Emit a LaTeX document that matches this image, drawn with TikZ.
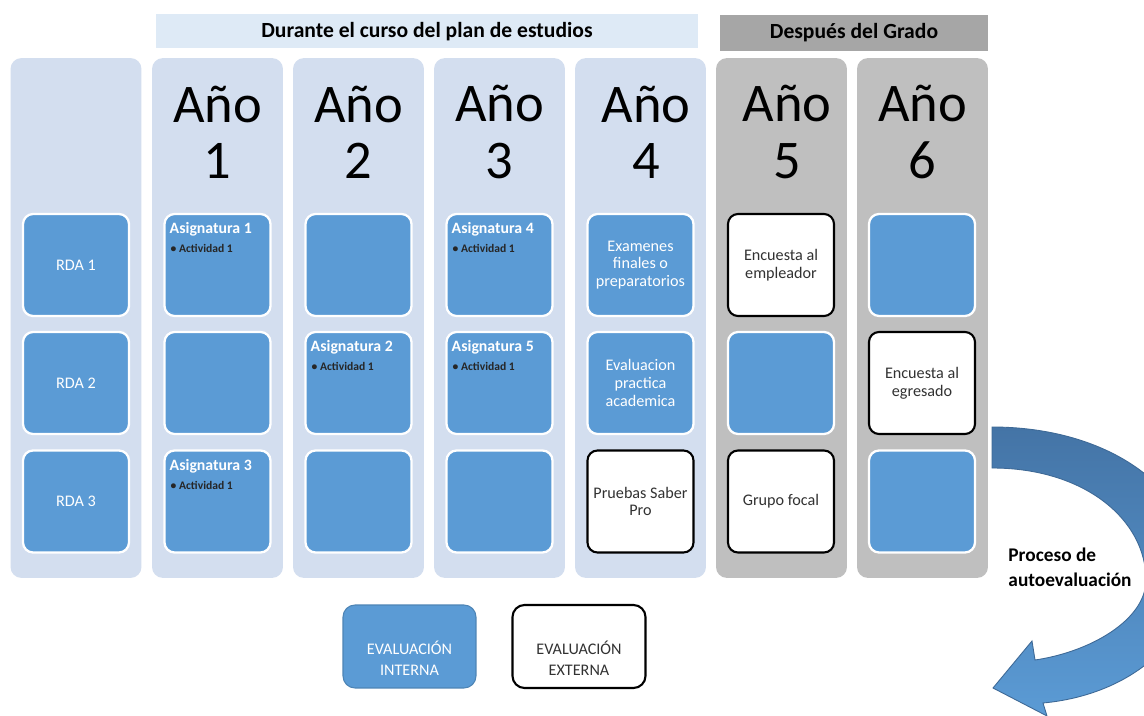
\documentclass[tikz,border=0pt]{standalone}
\usepackage{fontspec}
\setmainfont{Carlito}
\usetikzlibrary{calc}
\definecolor{colbg}{RGB}{211,222,239}
\definecolor{hdrbg}{RGB}{222,234,246}
\definecolor{gcolbg}{RGB}{191,191,191}
\definecolor{ghdrbg}{RGB}{166,166,166}
\definecolor{mblue}{RGB}{91,155,213}
\definecolor{arrowtop}{RGB}{68,116,166}
\definecolor{arrowedge}{RGB}{62,105,150}
\definecolor{darktext}{RGB}{50,50,50}
\tikzset{
  column/.style={rounded corners=0.22cm, minimum width=2.62cm, minimum height=10.4cm, inner sep=0pt, draw=none},
  lcol/.style={column, fill=colbg},
  gcol/.style={column, fill=gcolbg},
  boxbase/.style={rounded corners=0.2cm, minimum width=2.12cm, minimum height=2.04cm, inner sep=0pt, align=center, font=\fontsize{9.2}{10}\selectfont},
  bbox/.style={boxbase, fill=mblue, draw=white, line width=1.3pt, text=white},
  wbox/.style={boxbase, fill=white, draw=black, line width=1.2pt, text=darktext},
  yeartext/.style={font=\fontsize{31}{32}\selectfont, align=center, inner sep=0pt},
  hdrtext/.style={font=\bfseries\fontsize{12.3}{14}\selectfont, inner sep=0pt},
  asig/.style={anchor=base west, inner sep=0pt, text=white, font=\bfseries\fontsize{9}{10}\selectfont},
  act/.style={anchor=base west, inner sep=0pt, text=black!85, font=\bfseries\fontsize{6.6}{7}\selectfont},
  legbox/.style={rounded corners=0.24cm, minimum width=2.66cm, minimum height=1.66cm, inner sep=0pt},
  legtext/.style={align=center, inner sep=0pt, font=\fontsize{9.2}{12}\selectfont},
}
\begin{document}
\begin{tikzpicture}[x=0.02cm,y=-0.02cm]
\useasboundingbox (0,0) rectangle (1144,716);
\fill[white] (0,0) rectangle (1144,716);

% headers
\node[fill=hdrbg, minimum width=10.84cm, minimum height=0.68cm, inner sep=0pt] (hdr1) at (427,31) {};
\node[hdrtext] (hdr1t) at ([shift={(0,1)}]hdr1.center) {Durante el curso del plan de estudios};
\node[fill=ghdrbg, minimum width=5.36cm, minimum height=0.72cm, inner sep=0pt] (hdr2) at (854,33) {};
\node[hdrtext] (hdr2t) at (hdr2.center) {Después del Grado};

% columns
\node[lcol] (c0) at (76,318) {};
\node[lcol] (c1) at (217.5,318) {};
\node[lcol] (c2) at (358.5,318) {};
\node[lcol] (c3) at (499.5,318) {};
\node[lcol] (c4) at (640.5,318) {};
\node[gcol] (c5) at (781.5,318) {};
\node[gcol] (c6) at (922.5,318) {};

% year labels
\node[yeartext] (y1) at (217.5,132) {Año\\1};
\node[yeartext] (y2) at (358.5,132) {Año\\2};
\node[yeartext] (y3) at (499.5,132) {Año\\3};
\node[yeartext] (y4) at (646,132) {Año\\4};
\node[yeartext] (y5) at (787,132) {Año\\5};
\node[yeartext] (y6) at (922.5,132) {Año\\6};

% RDA column
\node[bbox] (r1) at (76,265) {RDA 1};
\node[bbox] (r2) at (76,383) {RDA 2};
\node[bbox] (r3) at (76,501.5) {RDA 3};

% Year 1
\node[bbox] (b11) at (217.5,265) {};
\node[bbox] (b12) at (217.5,383) {};
\node[bbox] (b13) at (217.5,501.5) {};
\node[asig] (t11) at ([shift={(6,21)}]b11.north west) {Asignatura 1};
\node[act] (a11) at ([shift={(7,40)}]b11.north west) {\textbullet\ Actividad 1};
\node[asig] (t13) at ([shift={(6,21)}]b13.north west) {Asignatura 3};
\node[act] (a13) at ([shift={(7,40)}]b13.north west) {\textbullet\ Actividad 1};

% Year 2
\node[bbox] (b21) at (358.5,265) {};
\node[bbox] (b22) at (358.5,383) {};
\node[bbox] (b23) at (358.5,501.5) {};
\node[asig] (t22) at ([shift={(6,21)}]b22.north west) {Asignatura 2};
\node[act] (a22) at ([shift={(7,40)}]b22.north west) {\textbullet\ Actividad 1};

% Year 3
\node[bbox] (b31) at (499.5,265) {};
\node[bbox] (b32) at (499.5,383) {};
\node[bbox] (b33) at (499.5,501.5) {};
\node[asig] (t31) at ([shift={(6,21)}]b31.north west) {Asignatura 4};
\node[act] (a31) at ([shift={(7,40)}]b31.north west) {\textbullet\ Actividad 1};
\node[asig] (t32) at ([shift={(6,21)}]b32.north west) {Asignatura 5};
\node[act] (a32) at ([shift={(7,40)}]b32.north west) {\textbullet\ Actividad 1};

% Year 4
\node[bbox] (b41) at (640.5,265) {Examenes\\finales o\\preparatorios};
\node[bbox] (b42) at (640.5,383) {Evaluacion\\practica\\academica};
\node[wbox] (b43) at (640.5,501.5) {Pruebas Saber\\Pro};

% Year 5
\node[wbox] (b51) at (781,265) {Encuesta al\\empleador};
\node[bbox] (b52) at (781,383) {};
\node[wbox] (b53) at (781,501.5) {Grupo focal};

% Year 6
\node[bbox] (b61) at (922,265) {};
\node[wbox] (b62) at (922,383) {Encuesta al\\egresado};
\node[bbox] (b63) at (922,501.5) {};

% legend
\node[legbox, fill=mblue, draw=mblue!85!black, line width=0.6pt] (li) at (409.5,646.5) {};
\node[legtext, text=white] (lit) at ([shift={(0,12)}]li.center) {EVALUACIÓN\\INTERNA};
\node[legbox, fill=white, draw=black, line width=1.2pt] (le) at (579,646.5) {};
\node[legtext, text=darktext] (let) at ([shift={(0,12)}]le.center) {EVALUACIÓN\\EXTERNA};

% curved arrow
\begin{scope}
\clip (0,0) rectangle (1144,716);
\shade[top color=arrowtop, bottom color=mblue, draw=arrowedge, line width=0.5pt]
 (992,427) .. controls (1110,427) and (1195,490) .. (1195,570)
 .. controls (1195,640) and (1130,695) .. (1043,703)
 -- (1047,716) -- (993,688) -- (1032,641) -- (1035,660)
 .. controls (1090,652) and (1146,620) .. (1146,580)
 .. controls (1146,520) and (1085,468) .. (992,468) -- cycle;
\end{scope}
\node[font=\bfseries\fontsize{11}{14}\selectfont, align=left, inner sep=0pt] (proc) at (1070,567) {Proceso de\\autoevaluación};
\end{tikzpicture}
\end{document}
